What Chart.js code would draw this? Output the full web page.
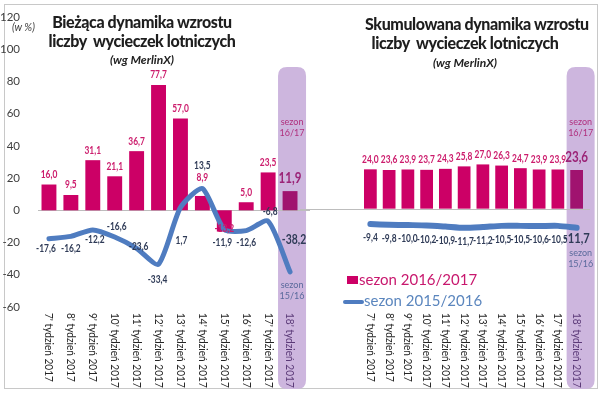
<!DOCTYPE html>
<html>
<head>
<meta charset="utf-8">
<script src="https://cdn.jsdelivr.net/npm/chart.js@4.4.0/dist/chart.umd.min.js"></script>
<style>
  html, body { margin: 0; padding: 0; background: #fff; }
  #wrap { position: relative; width: 600px; height: 394px; font-family: Lato, sans-serif; overflow: hidden; }
  #frame { position: absolute; left: 4px; top: 4px; width: 594px; height: 385px; box-sizing: border-box; border: 1px solid #c8c8c8; }
  canvas { position: absolute; top: 0; }
  .title { position: absolute; text-align: center; font-weight: 900; font-size: 16px; line-height: 19px; color: #1e1e1e; letter-spacing: -0.4px; white-space: nowrap; }
  .sub { position: absolute; text-align: center; font-weight: bold; font-style: italic; font-size: 12px; color: #222; white-space: nowrap; }
  .unit { position: absolute; left: 12px; top: 21px; font-style: italic; font-size: 10.5px; color: #404040; }
  .leg { position: absolute; font-size: 15px; white-space: nowrap; }
</style>
</head>
<body>
<div id="wrap">
  <div id="frame"></div>
  <canvas id="leftChart" width="310" height="394" style="left:0"></canvas>
  <canvas id="rightChart" width="300" height="394" style="left:300px"></canvas>

  <div class="unit">(w %)</div>
  <div class="title" style="left:42px;top:12px;width:200px">Bieżąca dynamika wzrostu<br>liczby&nbsp; wycieczek lotniczych</div>
  <div class="sub" style="left:42px;top:52px;width:200px">(wg MerlinX)</div>
  <div class="title" style="left:365px;top:14px;width:200px">Skumulowana dynamika wzrostu<br>liczby&nbsp; wycieczek lotniczych</div>
  <div class="sub" style="left:365px;top:55px;width:200px">(wg MerlinX)</div>

  <div style="position:absolute;left:347px;top:276px;width:11px;height:8px;background:#cc0066"></div>
  <div class="leg" style="left:359px;top:270px;color:#c8186e">sezon 2016/2017</div>
  <div style="position:absolute;left:343px;top:300px;width:21px;height:4px;border-radius:2px;background:#4f7cc0"></div>
  <div class="leg" style="left:364px;top:291px;color:#5b86be">sezon 2015/2016</div>
</div>

<script>
const weeks = ["7' tydzień 2017", "8' tydzień 2017", "9' tydzień 2017", "10' tydzień 2017",
  "11' tydzień 2017", "12' tydzień 2017", "13' tydzień 2017", "14' tydzień 2017",
  "15' tydzień 2017", "16' tydzień 2017", "17' tydzień 2017", "18' tydzień 2017"];

// biezaca dynamika
const current1617 = [16.0, 9.5, 31.1, 21.1, 36.7, 77.7, 57.0, 8.9, -13.2, 5.0, 23.5, 11.9];
const current1516 = [-17.6, -16.2, -12.2, -16.6, -23.6, -33.4, 1.7, 13.5, -11.9, -12.6, -6.8, -38.2];

// skumulowana dynamika
const cumul1617 = [24.0, 23.6, 23.9, 23.7, 24.3, 25.8, 27.0, 26.3, 24.7, 23.9, 23.9, 23.6];
const cumul1516 = [-9.4, -9.8, -10.0, -10.2, -10.9, -11.7, -11.2, -10.5, -10.5, -10.6, -10.5, -11.7];

const yMin = -60, yMax = 120, yStep = 20;

const LAST = weeks.length - 1;
const fmt = v => v.toFixed(1).replace('.', ',');

function roundRect(ctx, x, y, w, h, r) {
  ctx.beginPath();
  ctx.moveTo(x + r, y);
  ctx.lineTo(x + w - r, y);
  ctx.quadraticCurveTo(x + w, y, x + w, y + r);
  ctx.lineTo(x + w, y + h - r);
  ctx.quadraticCurveTo(x + w, y + h, x + w - r, y + h);
  ctx.lineTo(x + r, y + h);
  ctx.quadraticCurveTo(x, y + h, x, y + h - r);
  ctx.lineTo(x, y + r);
  ctx.quadraticCurveTo(x, y, x + r, y);
  ctx.closePath();
}

// narrow text, closer to the Calibri labels of the original
function narrowText(ctx, text, x, y, sx) {
  ctx.save();
  ctx.translate(x, y);
  ctx.scale(sx, 1);
  ctx.fillText(text, 0, 0);
  ctx.restore();
}

function panelPlugin(o) {
  return {
    id: 'panel',
    beforeDatasetsDraw(chart) {
      const { ctx, chartArea: a, scales: { x, y } } = chart;
      const xc = x.getPixelForValue(LAST) + o.hlShift;
      ctx.save();
      ctx.fillStyle = '#cdb6de';
      roundRect(ctx, xc - 14, 67, 28, chart.height - 5 - 67, 9);
      ctx.fill();
      const y0 = Math.round(y.getPixelForValue(0)) + 0.5;
      ctx.strokeStyle = '#bdbdbd';
      ctx.lineWidth = 1;
      ctx.beginPath();
      ctx.moveTo(o.zeroFrom(a), y0);
      ctx.lineTo(o.zeroTo(a, chart), y0);
      ctx.stroke();
      ctx.restore();
    },
    afterDatasetsDraw(chart) {
      const { ctx, chartArea: a, scales: { x, y } } = chart;
      ctx.save();
      ctx.textAlign = 'center';
      ctx.textBaseline = 'middle';

      // bar labels
      o.bars.forEach((v, i) => {
        const px = x.getPixelForValue(i);
        const end = y.getPixelForValue(v);
        const big = i === LAST;
        ctx.font = 'bold ' + (big ? 14.5 : 10.5) + 'px Lato';
        ctx.fillStyle = big ? '#9b2477' : '#cc1c6c';
        narrowText(ctx, fmt(v), px, end + o.barDy(i, v), 0.8);
      });

      // line labels
      o.line.forEach((v, i) => {
        const px = x.getPixelForValue(i);
        const py = y.getPixelForValue(v);
        const [dx, dy] = o.lineOff(i);
        const big = i === LAST;
        ctx.font = 'bold ' + (big ? o.lastLineSize : 10.5) + 'px Lato';
        ctx.fillStyle = '#2f3b57';
        narrowText(ctx, fmt(v), px + dx, py + dy, 0.8);
      });

      // sezon labels in the highlight
      const xc = x.getPixelForValue(LAST) + o.hlShift;
      ctx.font = '9px Lato';
      ctx.fillStyle = '#b0307e';
      ctx.fillText('sezon', xc, 122);
      ctx.fillText('16/17', xc, 133);
      ctx.fillStyle = '#5a6a9c';
      ctx.fillText('sezon', xc, o.s1516y);
      ctx.fillText('15/16', xc, o.s1516y + 11);

      // category labels, rotated clockwise
      ctx.font = '11px Lato';
      ctx.textAlign = 'left';
      weeks.forEach((w, i) => {
        const px = x.getPixelForValue(i);
        ctx.save();
        ctx.translate(px, a.bottom + 6);
        ctx.rotate(Math.PI / 2);
        ctx.scale(0.92, 1);
        ctx.fillStyle = i === LAST ? '#5b3a78' : '#262626';
        ctx.fillText(w, 0, 0);
        ctx.restore();
      });
      ctx.restore();
    }
  };
}

function makeChart(id, bars, line, o) {
  o.bars = bars;
  o.line = line;
  return new Chart(document.getElementById(id), {
    type: 'bar',
    data: {
      labels: weeks,
      datasets: [
        {
          type: 'line', label: 'sezon 2015/2016', data: line, order: 0,
          borderColor: '#4f7cc0', borderWidth: o.lineW, tension: 0.22,
          pointRadius: 0, borderCapStyle: 'round', borderJoinStyle: 'round'
        },
        {
          type: 'bar', label: 'sezon 2016/2017', data: bars, order: 1,
          backgroundColor: c => c.dataIndex === LAST ? '#a0136f' : '#cc0066',
          barPercentage: 0.68, categoryPercentage: 1
        }
      ]
    },
    options: {
      responsive: false,
      animation: false,
      layout: { padding: { left: o.padL, right: o.padR, top: 12, bottom: 87 } },
      plugins: { legend: { display: false }, tooltip: { enabled: false } },
      scales: {
        x: { display: false },
        y: {
          display: o.showY, min: yMin, max: yMax,
          ticks: { stepSize: yStep, padding: 10, color: '#404040', font: { family: 'Lato', size: 11.5 } },
          grid: { display: false }, border: { display: false },
          afterFit: s => { s.width = 38; }
        }
      }
    },
    plugins: [panelPlugin(o)]
  });
}

const leftLineOff = [[-3, 10], [0, 12], [2, 10], [2, -10], [2, -2], [-1, 15], [1, 33], [0, -23], [-2, 13], [0, 12], [2, -10], [4, -32]];

makeChart('leftChart', current1617, current1516, {
  showY: true, padL: 0, padR: 9, lineW: 5, hlShift: 2, lastLineSize: 13, s1516y: 285,
  zeroFrom: a => a.left, zeroTo: (a, c) => c.width,
  barDy: (i, v) => i === LAST ? -13 : (i === 7 ? -18 : (v < 0 ? -3 : -10)),
  lineOff: i => leftLineOff[i]
});

makeChart('rightChart', cumul1617, cumul1516, {
  showY: false, padL: 23, padR: 14, lineW: 6, hlShift: 4, lastLineSize: 14, s1516y: 253,
  zeroFrom: a => 0, zeroTo: (a, c) => a.right + 4,
  barDy: (i, v) => i === LAST ? -13 : -10,
  lineOff: i => i === LAST ? [0, 11] : [0, 14]
});
</script>
</body>
</html>
